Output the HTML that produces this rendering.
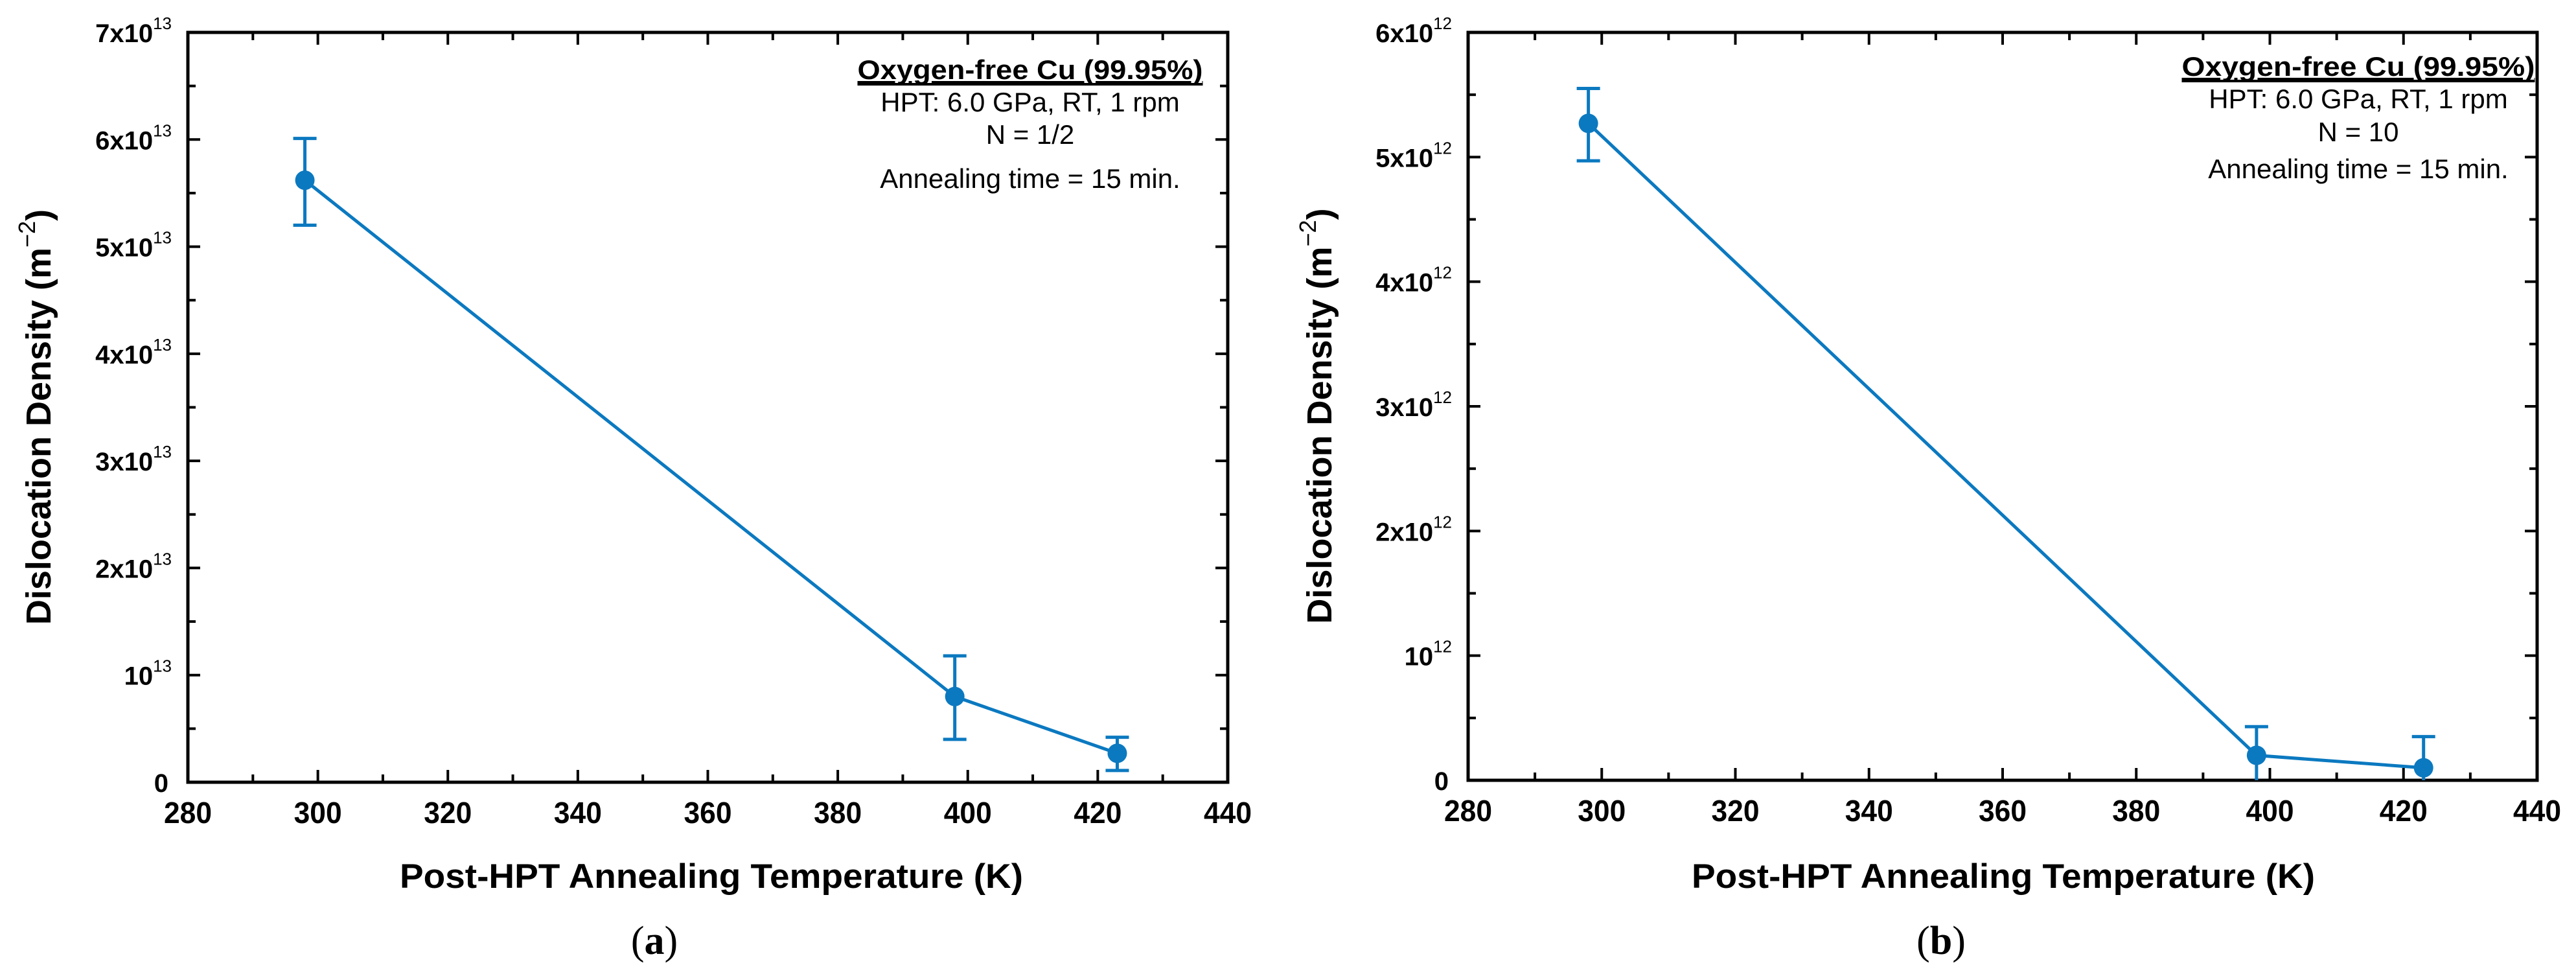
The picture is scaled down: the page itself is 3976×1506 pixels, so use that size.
<!DOCTYPE html>
<html><head><meta charset="utf-8"><style>
html,body{margin:0;padding:0;background:#fff;}
svg{display:block;}
text{font-family:"Liberation Sans",sans-serif;}
</style></head>
<body>
<svg id="fig" width="3976" height="1506" viewBox="0 0 3976 1506" xmlns="http://www.w3.org/2000/svg"></svg>
<script>
// ---- data ----
const temperaturesK = [298, 398, 423];
const densityA = [5.62, 0.80, 0.27];      // x10^13
const errLowA = [5.20, 0.40, 0.11];
const errHighA = [6.01, 1.18, 0.42];
const densityB = [5.27, 0.20, 0.10];      // x10^12
const errLowB = [4.97, -0.05, -0.25];
const errHighB = [5.55, 0.43, 0.35];
const xTicks = [280, 300, 320, 340, 360, 380, 400, 420, 440];
const yTicksA = [0, 1, 2, 3, 4, 5, 6, 7];
const yTicksB = [0, 1, 2, 3, 4, 5, 6];
const annotA = ["HPT: 6.0 GPa, RT, 1 rpm", "N = 1/2", "Annealing time = 15 min."];
const annotB = ["HPT: 6.0 GPa, RT, 1 rpm", "N = 10", "Annealing time = 15 min."];

const NS = "http://www.w3.org/2000/svg";
const svg = document.getElementById('fig');
const BLUE = "#0b79c0";
function mk(tag, attrs, parent) {
  const e = document.createElementNS(NS, tag);
  for (const k in attrs) e.setAttribute(k, attrs[k]);
  (parent || svg).appendChild(e);
  return e;
}

function panel(cfg) {
  const g = mk('g', {});
  
  
  const X = v => cfg.x0 + (v - 280) / 160 * (cfg.x1 - cfg.x0);
  const Y = v => cfg.y1 - (v - 0) / cfg.ymax * (cfg.y1 - cfg.y0);

  // frame
  const frame = mk('rect', {x: cfg.x0, y: cfg.y0, width: cfg.x1 - cfg.x0, height: cfg.y1 - cfg.y0, fill: 'none', stroke: '#000', 'stroke-width': 5}, g);
  
  

  // x ticks (major + minor) on bottom and top
  for (let t = 280; t <= 440; t += 10) {
    const major = xTicks.includes(t);
    const len = major ? 19 : 12;
    const xx = X(t);
    const tb = mk('line', {x1: xx, x2: xx, y1: cfg.y1, y2: cfg.y1 - len, stroke: '#000', 'stroke-width': 4}, g);
    
    
    const tt = mk('line', {x1: xx, x2: xx, y1: cfg.y0, y2: cfg.y0 + len, stroke: '#000', 'stroke-width': 4}, g);
    
    
  }
  xTicks.forEach(t => {
    const lb = mk('text', {x: X(t), y: cfg.y1 + 63, 'text-anchor': 'middle', 'font-size': 46, 'font-weight': 'bold', textLength: 74, lengthAdjust: 'spacingAndGlyphs'}, g);
    lb.textContent = String(t);
    
    
  });

  // y ticks
  for (let v = 0; v <= cfg.ymax; v += 0.5) {
    const major = Number.isInteger(v);
    const len = major ? 19 : 12;
    const yy = Y(v);
    const tl = mk('line', {x1: cfg.x0, x2: cfg.x0 + len, y1: yy, y2: yy, stroke: '#000', 'stroke-width': 4}, g);
    
    
    const tr = mk('line', {x1: cfg.x1, x2: cfg.x1 - len, y1: yy, y2: yy, stroke: '#000', 'stroke-width': 4}, g);
    
    
  }
  cfg.yTicks.forEach(v => {
    const lb = mk('text', {x: cfg.x0 - 25, y: Y(v) + 15, 'text-anchor': 'end', 'font-size': 40}, g);
    
    
    if (v === 0) {
      lb.textContent = '0';
      lb.setAttribute('font-weight', 'bold');
      lb.setAttribute('x', cfg.x0 - 30);
    } else {
      const m = mk('tspan', {'font-weight': 'bold'}, lb);
      m.textContent = (v === 1 ? '' : v + 'x') + '10';
      const s = mk('tspan', {'font-size': 26, dy: -20}, lb);
      s.textContent = cfg.exp;
    }
  });

  // axis titles
  const yt = mk('text', {x: 0, y: 0, 'text-anchor': 'middle', 'font-size': 54, 'font-weight': 'bold', transform: `translate(${cfg.ytx},${(cfg.y0 + cfg.y1) / 2 + 15}) rotate(-90)`}, g);
  
  
  const yt1 = mk('tspan', {}, yt); yt1.textContent = 'Dislocation Density (m';
  const yt2 = mk('tspan', {'font-size': 36, dy: -24, 'font-weight': 'normal'}, yt); yt2.textContent = '\u22122';
  const yt3 = mk('tspan', {dy: 24}, yt); yt3.textContent = ')';

  const xt = mk('text', {x: cfg.xtx, y: 1370, 'font-size': 53, 'font-weight': 'bold', textLength: 962, lengthAdjust: 'spacingAndGlyphs'}, g);
  xt.textContent = 'Post-HPT Annealing Temperature (K)';
  
  

  const pl = mk('text', {x: cfg.plx, y: 1472, 'text-anchor': 'middle', 'font-size': 62, style: 'font-family:"Liberation Serif",serif'}, g);
  
  
  const p1 = mk('tspan', {}, pl); p1.textContent = '(';
  const p2 = mk('tspan', {'font-weight': 'bold'}, pl); p2.textContent = cfg.letter;
  const p3 = mk('tspan', {}, pl); p3.textContent = ')';

  // annotation
  const ttl = mk('text', {x: cfg.ax, y: cfg.ay[0], 'text-anchor': 'middle', 'font-size': 42, 'font-weight': 'bold', 'text-decoration': 'underline', textLength: cfg.aw, lengthAdjust: 'spacingAndGlyphs'}, g);
  ttl.textContent = 'Oxygen-free Cu (99.95%)';
  
  
  const ul = mk('line', {x1: cfg.ax - cfg.aw / 2, x2: cfg.ax + cfg.aw / 2, y1: cfg.ay[0] + 8, y2: cfg.ay[0] + 8, stroke: '#000', 'stroke-width': 4}, g);
  
  
  cfg.annot.forEach((s, i) => {
    const a = mk('text', {x: cfg.ax, y: cfg.ay[i + 1], 'text-anchor': 'middle', 'font-size': 42}, g);
    a.textContent = s;
    
    
  });

  // series
  const clip = mk('clipPath', {id: 'clip-' + cfg.letter}, g);
  mk('rect', {x: cfg.x0, y: cfg.y0, width: cfg.x1 - cfg.x0, height: cfg.y1 - cfg.y0}, clip);
  const sg = mk('g', {'clip-path': `url(#clip-${cfg.letter})`}, g);
  
  
  const pts = temperaturesK.map((t, i) => X(t) + ',' + Y(cfg.vals[i])).join(' ');
  const line = mk('polyline', {points: pts, fill: 'none', stroke: BLUE, 'stroke-width': 5}, sg);
  
  
  temperaturesK.forEach((t, i) => {
    const xx = X(t);
    const eb = mk('path', {d: `M${xx},${Y(cfg.lo[i])}V${Y(cfg.hi[i])}M${xx - 18},${Y(cfg.lo[i])}H${xx + 18}M${xx - 18},${Y(cfg.hi[i])}H${xx + 18}`, stroke: BLUE, 'stroke-width': 5, fill: 'none'}, sg);
    
    
    const c = mk('circle', {cx: xx, cy: Y(cfg.vals[i]), r: 15, fill: BLUE}, sg);
    
    
  });
}

panel({name: 'chart-a', letter: 'a', x0: 290, x1: 1895, y0: 50, y1: 1207, ymax: 7, yTicks: yTicksA, exp: '13',
  vals: densityA, lo: errLowA, hi: errHighA, ytx: 78, xtx: 617, plx: 1010,
  ax: 1590, aw: 533, ay: [122, 172, 222, 290], annot: annotA});
panel({name: 'chart-b', letter: 'b', x0: 2266, x1: 3916, y0: 50, y1: 1204, ymax: 6, yTicks: yTicksB, exp: '12',
  vals: densityB, lo: errLowB, hi: errHighB, ytx: 2055, xtx: 2611, plx: 2996,
  ax: 3640, aw: 545, ay: [117, 167, 218, 275], annot: annotB});
</script>
</body></html>
